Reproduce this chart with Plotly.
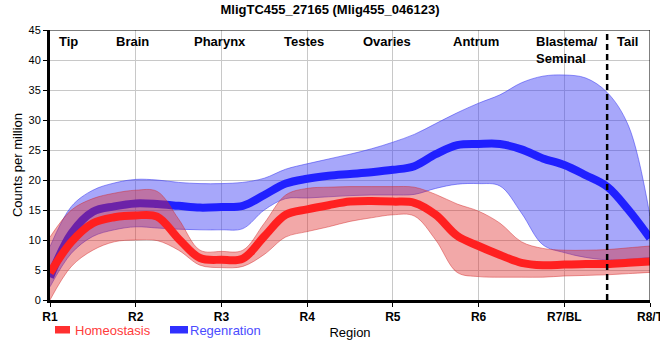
import plotly.graph_objects as go

# Region positions (index along the body axis, quarter steps)
positions = [i * 0.25 for i in range(29)]
tick_vals = [0, 1, 2, 3, 4, 5, 6, 7]
tick_labels = ["R1", "R2", "R3", "R4", "R5", "R6", "R7/BL", "R8/T"]

# Homeostasis (red)
homeo_mean = [4.5, 9.7, 12.8, 13.8, 14.1, 13.9, 10.2, 7.0, 6.7, 6.9, 10.6, 14.2, 15.1,
              15.8, 16.4, 16.5, 16.4, 16.2, 14.2, 10.7, 9.0, 7.5, 6.2, 5.8, 5.9, 6.0,
              6.0, 6.2, 6.4]
homeo_upper = [10.5, 15.0, 16.9, 17.8, 18.3, 18.1, 13.5, 8.3, 8.1, 8.3, 12.8, 17.5, 18.6,
               18.8, 18.9, 18.9, 18.9, 18.8, 17.6, 16.0, 14.8, 12.8, 9.7, 8.6, 8.3, 8.3,
               8.4, 8.7, 9.0]
homeo_lower = [0.0, 5.6, 8.3, 9.7, 10.0, 9.9, 8.3, 5.8, 5.4, 5.6, 7.6, 10.5, 11.4,
               12.2, 13.1, 13.7, 14.2, 14.0, 10.0, 4.6, 3.9, 3.8, 3.8, 3.8, 4.0, 4.1,
               4.2, 4.4, 4.6]

# Regeneration (blue)
regen_mean = [3.8, 11.1, 14.7, 15.6, 16.1, 16.0, 15.7, 15.4, 15.5, 15.7, 17.5, 19.4, 20.2,
              20.7, 21.0, 21.3, 21.7, 22.3, 24.3, 25.8, 26.0, 26.0, 25.1, 23.6, 22.5, 20.8,
              18.9, 15.0, 10.3]
regen_upper = [8.9, 15.6, 18.3, 19.5, 20.1, 20.0, 19.6, 19.4, 19.4, 19.6, 20.3, 21.8, 22.7,
               23.5, 24.3, 25.2, 26.3, 27.6, 29.4, 31.2, 32.8, 34.2, 36.2, 37.3, 37.5, 37.0,
               34.6, 29.0, 14.0]
regen_lower = [2.2, 7.8, 10.6, 11.7, 12.2, 12.0, 11.8, 11.7, 11.7, 11.9, 15.0, 16.9, 17.0,
               17.2, 17.4, 17.5, 17.5, 17.6, 18.6, 19.3, 19.4, 19.0, 14.5, 9.2, 7.9, 7.1,
               6.7, 6.8, 7.1]

region_names = ["Tip", "Brain", "Pharynx", "Testes", "Ovaries", "Antrum", "Blastema/<br>Seminal", "Tail"]
region_x = [0.21, 0.96, 1.98, 2.96, 3.93, 4.97, 5.65, 6.74]

FONT = "Liberation Sans, Arial, sans-serif"
RED = "#ff2020"
BLUE = "#2020ff"

fig = go.Figure()
spl = dict(shape="spline", smoothing=1.0)

# Blue band
fig.add_trace(go.Scatter(x=positions, y=regen_lower, mode="lines",
                         line=dict(color="rgba(60,60,240,0.55)", width=1, **spl),
                         showlegend=False, hoverinfo="skip"))
fig.add_trace(go.Scatter(x=positions, y=regen_upper, mode="lines", fill="tonexty",
                         fillcolor="rgba(60,60,245,0.45)",
                         line=dict(color="rgba(60,60,240,0.55)", width=1, **spl),
                         showlegend=False, hoverinfo="skip"))
fig.add_trace(go.Scatter(x=positions, y=regen_mean, mode="lines", name="Regenration",
                         line=dict(color=BLUE, width=8, **spl), showlegend=False))
# Red band
fig.add_trace(go.Scatter(x=positions, y=homeo_lower, mode="lines",
                         line=dict(color="rgba(210,40,40,0.45)", width=1, **spl),
                         showlegend=False, hoverinfo="skip"))
fig.add_trace(go.Scatter(x=positions, y=homeo_upper, mode="lines", fill="tonexty",
                         fillcolor="rgba(222,37,37,0.4)",
                         line=dict(color="rgba(210,40,40,0.45)", width=1, **spl),
                         showlegend=False, hoverinfo="skip"))
fig.add_trace(go.Scatter(x=positions, y=homeo_mean, mode="lines", name="Homeostasis",
                         line=dict(color=RED, width=8, **spl), showlegend=False))

annotations = []
for name, xv in zip(region_names, region_x):
    multi = "<br>" in name
    annotations.append(dict(x=xv, y=44.7, xref="x", yref="y", text="<b>" + name + "</b>",
                            showarrow=False, xanchor="left" if multi else "center",
                            yanchor="top", align="left",
                            font=dict(family=FONT, size=13, color="black")))

# Manual legend
annotations.append(dict(x=(73 - 50) / 600, y=(300 - 330) / 270, xref="paper", yref="paper",
                        text="Homeostasis", showarrow=False, xanchor="left", yanchor="middle",
                        font=dict(family=FONT, size=13, color="#ff3b3b")))
annotations.append(dict(x=(188 - 50) / 600, y=(300 - 330) / 270, xref="paper", yref="paper",
                        text="Regenration", showarrow=False, xanchor="left", yanchor="middle",
                        font=dict(family=FONT, size=13, color="#4b4bff")))

shapes = [
    dict(type="line", xref="x", yref="y", x0=6.5, x1=6.5, y0=0, y1=45,
         line=dict(color="black", width=2.5, dash="6px,4px")),
    dict(type="line", xref="x", yref="y", x0=0, x1=7, y0=45, y1=45,
         line=dict(color="black", width=1)),
    dict(type="line", xref="x", yref="y", x0=7, x1=7, y0=0, y1=45,
         line=dict(color="black", width=1)),
    dict(type="rect", xref="paper", yref="paper", x0=(55 - 50) / 600, x1=(70 - 50) / 600,
         y0=(300 - 333.5) / 270, y1=(300 - 326) / 270, fillcolor="#ff3030",
         line=dict(width=0)),
    dict(type="rect", xref="paper", yref="paper", x0=(170 - 50) / 600, x1=(188 - 50) / 600,
         y0=(300 - 333.5) / 270, y1=(300 - 326) / 270, fillcolor="#3030ff",
         line=dict(width=0)),
]

fig.update_layout(
    width=660, height=360,
    margin=dict(l=50, r=10, t=30, b=60, autoexpand=False),
    paper_bgcolor="white", plot_bgcolor="white",
    font=dict(family=FONT, size=12, color="black"),
    title=dict(text="<b>MligTC455_27165 (Mlig455_046123)</b>", x=0.5, xanchor="center",
               y=1 - 9 / 360, yanchor="middle", yref="container",
               font=dict(family=FONT, size=13, color="black")),
    showlegend=False,
    annotations=annotations,
    shapes=shapes,
    xaxis=dict(range=[0, 7], tickvals=tick_vals, ticktext=["<b>" + t + "</b>" for t in tick_labels],
               tickfont=dict(family=FONT, size=12, color="black"),
               ticklabeloverflow="allow",
               showgrid=True, gridcolor="#c8c8c8", gridwidth=1, automargin=False,
               showline=True, linecolor="black", linewidth=3,
               ticks="outside", ticklen=4, tickcolor="black", zeroline=False,
               title=dict(text="Region", standoff=5, font=dict(family=FONT, size=13))),
    yaxis=dict(range=[0, 45], dtick=5, tick0=0, automargin=False,
               tickfont=dict(family=FONT, size=11, color="black"),
               showgrid=True, gridcolor="#c8c8c8", gridwidth=1,
               showline=True, linecolor="black", linewidth=3,
               ticks="outside", ticklen=4, tickcolor="black", zeroline=False,
               title=dict(text="Counts per million", standoff=3, font=dict(family=FONT, size=13))),
)

fig.write_html("out.html", config={"displayModeBar": False},
               post_script="document.body.style.margin='0';document.body.style.overflow='hidden';")
